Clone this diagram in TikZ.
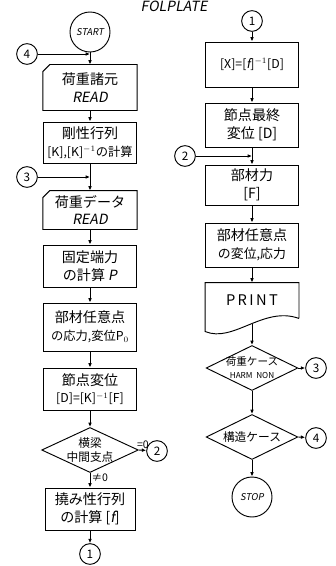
\documentclass[tikz,border=0pt]{standalone}
\usepackage{fontspec}
\setmainfont{Noto Sans CJK JP}
\newfontfamily\jpit[FakeSlant=0.18]{Noto Sans CJK JP}
\usetikzlibrary{arrows.meta,shapes.geometric,calc}
\begin{document}
\begin{tikzpicture}[x=0.03cm,y=-0.03cm,
  line width=0.8pt,
  every node/.style={font=\fontsize{12}{15}\selectfont},
  pbox/.style={draw, rectangle, inner sep=0pt, align=center, minimum width=2.8cm},
  pcard/.style={rectangle, inner sep=0pt, align=center, minimum width=2.8cm},
  conn/.style={draw, circle, inner sep=0pt, minimum size=0.62cm, font=\fontsize{10}{12}\selectfont},
  term/.style={draw, circle, inner sep=0pt, minimum size=1.2cm, font=\jpit\fontsize{8}{10}\selectfont},
  pdiam/.style={draw, diamond, inner sep=0pt},
  dtext/.style={align=center, inner sep=0pt, font=\fontsize{10}{12}\selectfont},
  arr/.style={-{Latex[length=1.3mm,width=1.1mm]}},
  small/.style={font=\fontsize{9}{10}\selectfont, inner sep=1pt},
  line2/.style={}
  ]
\useasboundingbox (0,0) rectangle (335,566);

% title
\node[font=\jpit\fontsize{12}{14}\selectfont] (title) at (174,6) {FOLPLATE};

% ---------- left column ----------
\node[term] (start) at (90,32) {START};
\node[conn] (c4l) at (27,54) {4};
\node[pcard, minimum height=1.35cm] (b1) at (90,87.5) {荷重諸元\\{\jpit READ}};
\draw ($(b1.north west)+(0,7)$) -- ($(b1.north west)+(7,0)$) -- (b1.north east) -- (b1.south east) -- (b1.south west) -- cycle;
\node[pbox, minimum height=1.23cm] (b2) at (90,142.5) {剛性行列\\{\fontsize{10.5}{12}\selectfont [K],[K]$^{-1}$の計算}};
\node[conn] (c3l) at (27,177) {3};
\node[pcard, minimum height=1.14cm] (b3) at (90,210) {荷重データ\\{\jpit READ}};
\draw ($(b3.north west)+(0,7)$) -- ($(b3.north west)+(7,0)$) -- (b3.north east) -- (b3.south east) -- (b3.south west) -- cycle;
\node[pbox, minimum height=1.26cm] (b4) at (90,266) {固定端力\\の計算\ {\jpit P}};
\node[pbox, minimum height=1.44cm] (b5) at (90,327) {部材任意点\\{\fontsize{10.5}{12}\selectfont の応力,変位P$_0$}};
\node[pbox, minimum height=1.26cm] (b6) at (90,389) {節点変位\\{\fontsize{10.5}{12}\selectfont [D]=[K]$^{-1}$[F]}};
\node[pdiam, minimum width=2.9cm, minimum height=1.35cm] (d1) at (90,450) {};
\node[dtext] (d1t) at (d1.center) {横梁\\中間支点};
\node[conn] (c2l) at (157,451) {2};
\node[pbox, minimum width=2.7cm, minimum height=1.26cm] (b7) at (90,509) {撓み性行列\\の計算 [{\jpit f}]};
\node[conn] (c1l) at (90,554) {1};
\coordinate (j4) at (b1.north |- c4l);
\coordinate (j3) at (b3.north |- c3l);

\draw[arr] (start) -- (b1.north);
\draw[arr] (c4l) -- (j4);
\draw[arr] (b1) -- (b2);
\draw[arr] (b2) -- (b3.north);
\draw[arr] (c3l) -- (j3);
\draw[arr] (b3) -- (b4);
\draw[arr] (b4) -- (b5);
\draw[arr] (b5) -- (b6);
\draw[arr] (b6) -- (d1.north);
\draw[arr] (d1.east) -- node[small, above, pos=0.55] (l0) {=0} (c2l);
\draw[arr] (d1.south) -- node[small, right, pos=0.35] (ln0) {≠0} (b7.north);
\draw[arr] (b7) -- (c1l);

% ---------- right column ----------
\node[conn] (c1r) at (252,21) {1};
\node[pbox, minimum width=2.79cm, minimum height=1.35cm] (r1) at (252,64.5) {{\fontsize{10.5}{12}\selectfont [X]=[{\jpit f}]$^{-1}$[D]}};
\node[pbox, minimum width=2.79cm, minimum height=1.32cm] (r2) at (252,125) {節点最終\\{変位 [D]}};
\node[conn] (c2r) at (185,156) {2};
\node[pbox, minimum width=2.79cm, minimum height=1.2cm] (r3) at (252,185) {部材力\\{[F]}};
\node[pbox, minimum width=2.79cm, minimum height=1.32cm] (r4) at (252,245) {部材任意点\\{\fontsize{11}{13}\selectfont の変位,応力}};
\node[pcard, minimum width=2.79cm, minimum height=1.05cm, font=\fontsize{12.5}{14}\selectfont] (pr) at (252,300.5) {P\,R\,I\,N\,T};
\draw (pr.south east) -- (pr.north east) -- (pr.north west) -- ($(pr.south west)+(0,13)$) .. controls +(28,12) and +(-35,-13) .. (pr.south east);
\coordinate (prb) at (252,324);
\node[pdiam, minimum width=2.75cm, minimum height=1.35cm] (d2) at (252,368) {};
\node[dtext, font=\fontsize{9}{11}\selectfont] (d2t) at (d2.center) {荷重ケース\\{\fontsize{7}{9}\selectfont HARM\ \ NON}};
\node[conn] (c3r) at (316,368) {3};
\node[pdiam, minimum width=2.75cm, minimum height=1.35cm] (d3) at (252,437) {};
\node[dtext] (d3t) at (d3.center) {構造ケース};
\node[conn] (c4r) at (316,438) {4};
\node[term] (stop) at (252,497) {STOP};
\coordinate (j2) at (r3.north |- c2r);

\draw[arr] (c1r) -- (r1);
\draw[arr] (r1) -- (r2);
\draw[arr] (r2) -- (r3.north);
\draw[arr] (c2r) -- (j2);
\draw[arr] (r3) -- (r4);
\draw[arr] (r4) -- (pr.north);
\draw[arr] (prb) -- (d2.north);
\draw[arr] (d2.east) -- (c3r);
\draw[arr] (d2.south) -- (d3.north);
\draw[arr] (d3.east) -- (c4r);
\draw[arr] (d3.south) -- (stop);
\end{tikzpicture}
\end{document}
